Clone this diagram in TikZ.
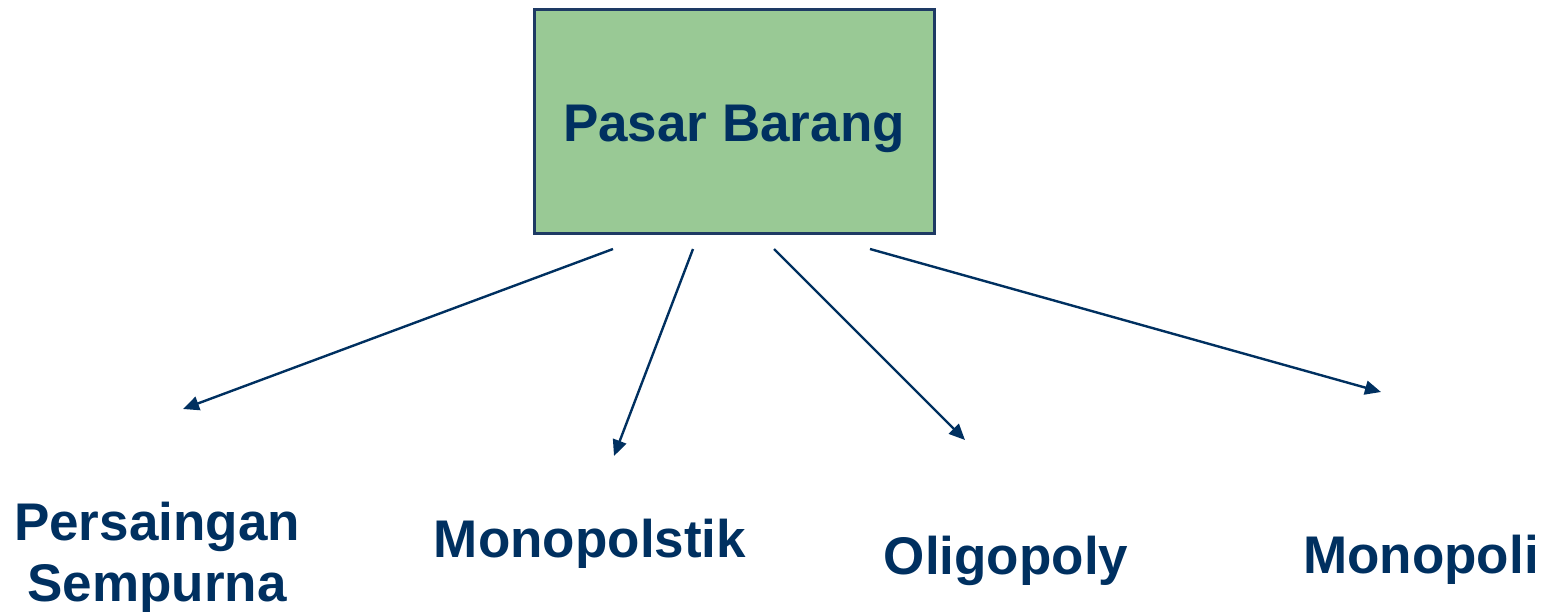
\documentclass[tikz,border=0pt]{standalone}
\usepackage{fontspec}
\setmainfont{Liberation Sans}
\usetikzlibrary{arrows.meta}
\definecolor{navy}{RGB}{0,48,96}
\definecolor{boxgreen}{RGB}{153,201,149}
\definecolor{boxline}{RGB}{30,58,100}
\tikzset{
  mainbox/.style={draw=boxline, line width=1.5pt, fill=boxgreen, minimum width=200pt, minimum height=112pt, inner sep=0pt},
  label/.style={text=navy, font=\fontsize{26.5pt}{30.5pt}\selectfont\bfseries, anchor=base, inner sep=0pt, align=center},
  link/.style={draw=navy, line width=1.2pt, -{Triangle[length=8pt,width=7pt]}}
}
\begin{document}
\begin{tikzpicture}[x=0.5pt,y=-0.5pt]
\useasboundingbox (0,0) rectangle (1549,616);
\node[mainbox] (pasar) at (734,121) {};
\node[label] (pasartext) at (734,141) {Pasar Barang};
% branch labels (base = baseline of the last line)
\node[label] (ps) at (157,601) {Persaingan\\Sempurna};
\node[label] (mp) at (590,557) {Monopolstik};
\node[label] (ol) at (1006,574) {Oligopoly};
\node[label] (mo) at (1421,573) {Monopoli};
% arrow start and end points
\coordinate (s1) at (613,249);
\coordinate (s2) at (693,249);
\coordinate (s3) at (774,249);
\coordinate (s4) at (870,249);
\coordinate (e1) at (183,409);
\coordinate (e2) at (614,456);
\coordinate (e3) at (965,440);
\coordinate (e4) at (1381,392);
\draw[link] (s1) -- (e1);
\draw[link] (s2) -- (e2);
\draw[link] (s3) -- (e3);
\draw[link] (s4) -- (e4);
\end{tikzpicture}
\end{document}
